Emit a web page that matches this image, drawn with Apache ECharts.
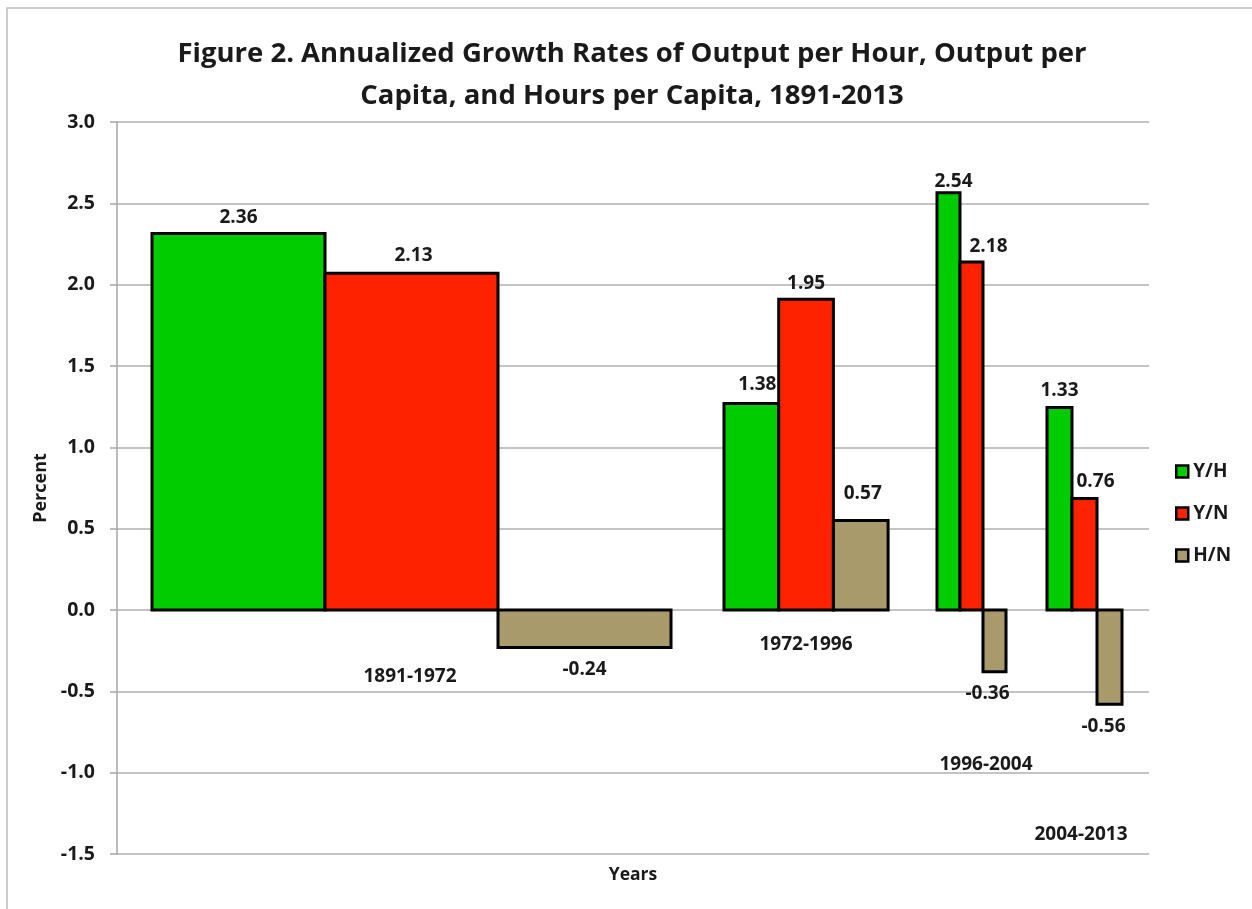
<!DOCTYPE html>
<html>
<head>
<meta charset="utf-8">
<script src="https://cdn.jsdelivr.net/npm/echarts@6/dist/echarts.min.js"></script>
<style>
html,body{margin:0;padding:0;background:#fff;}
#chart{width:1252px;height:909px;}
</style>
</head>
<body>
<div id="chart"></div>
<script>
// ---- data ----
const categories = ['1891-1972', '1972-1996', '1996-2004', '2004-2013'];
const seriesNames = ['Y/H', 'Y/N', 'H/N'];
// bar heights as drawn in the picture
const yhValues = [2.315, 1.27, 2.565, 1.245];
const ynValues = [2.07, 1.91, 2.14, 0.685];
const hnValues = [-0.23, 0.55, -0.38, -0.58];
// printed value labels
const yhLabels = ['2.36', '1.38', '2.54', '1.33'];
const ynLabels = ['2.13', '1.95', '2.18', '0.76'];
const hnLabels = ['-0.24', '0.57', '-0.36', '-0.56'];
const yMin = -1.5, yMax = 3.0, yInterval = 0.5;

// ---- layout (x in arbitrary plot units) ----
const layout = {
  xMax: 1032,
  groupStart: [35, 607, 820, 930],
  barWidth: [173, 54.7, 23, 25],
  labelDx: [[0, 6, 5, 0], [2, 0, 17, 11], [0, 2, -7, -6]],
  labelDy: [[-16, -19, -11, -17], [-18, -16, -15, -17], [22, -27, 22, 22]],
  catX: [293, 689, 869, 964],
  catY: [-0.41, -0.215, -0.95, -1.38]
};
const colors = ['#00cc00', '#ff2200', '#a89a6a'];
const FONT = "'Open Sans', 'Liberation Sans', sans-serif";

const valueSets = [yhValues, ynValues, hnValues];
const labelSets = [yhLabels, ynLabels, hnLabels];

function makeBarSeries(si) {
  return {
    name: seriesNames[si],
    type: 'custom',
    itemStyle: { color: colors[si], borderColor: '#000', borderWidth: 2.5 },
    data: valueSets[si].map((v, g) => [g, v]),
    renderItem: function (params, api) {
      const g = api.value(0);
      const v = api.value(1);
      const x0 = layout.groupStart[g] + si * layout.barWidth[g];
      const x1 = x0 + layout.barWidth[g];
      const p0 = api.coord([x0, 0]);
      const p1 = api.coord([x1, v]);
      const top = Math.min(p0[1], p1[1]);
      const h = Math.abs(p1[1] - p0[1]);
      return {
        type: 'group',
        children: [
          {
            type: 'rect',
            shape: { x: p0[0], y: top, width: p1[0] - p0[0], height: h },
            style: { fill: colors[si], stroke: '#000', lineWidth: 3 }
          },
          {
            type: 'text',
            style: {
              text: labelSets[si][g],
              x: (p0[0] + p1[0]) / 2 + layout.labelDx[si][g],
              y: p1[1] + layout.labelDy[si][g],
              align: 'center',
              verticalAlign: 'middle',
              font: "bold 19px " + FONT,
              fill: '#1a1a1a'
            }
          }
        ]
      };
    }
  };
}

const catSeries = {
  name: 'categories',
  type: 'custom',
  silent: true,
  data: categories.map((c, g) => [g]),
  renderItem: function (params, api) {
    const g = api.value(0);
    const p = api.coord([layout.catX[g], layout.catY[g]]);
    return {
      type: 'text',
      style: {
        text: categories[g], x: p[0], y: p[1],
        align: 'center', verticalAlign: 'middle',
        font: "bold 19px " + FONT, fill: '#1a1a1a'
      }
    };
  }
};

const chart = echarts.init(document.getElementById('chart'), null, { renderer: 'canvas' });
chart.setOption({
  backgroundColor: '#fff',
  animation: false,
  title: {
    text: 'Figure 2. Annualized Growth Rates of Output per Hour, Output per\nCapita, and Hours per Capita, 1891-2013',
    left: 627, top: 28, textAlign: 'center',
    textStyle: { fontFamily: FONT, fontWeight: 'bold', fontSize: 27.5, lineHeight: 42, color: '#1a1a1a' }
  },
  graphic: [{
    type: 'rect', shape: { x: 7, y: 8, width: 1270, height: 930 },
    style: { fill: 'none', stroke: '#bdbdbd', lineWidth: 1.5 }, silent: true
  }],
  legend: {
    data: seriesNames,
    orient: 'vertical', left: 1175, top: 462, padding: 0,
    itemWidth: 12, itemHeight: 12, itemGap: 23,
    icon: 'rect',
    itemStyle: { borderColor: '#000', borderWidth: 2.5 },
    textStyle: { fontFamily: FONT, fontWeight: 'bold', fontSize: 19, color: '#1a1a1a' }
  },
  grid: { left: 117, right: 103, top: 122, bottom: 55, containLabel: false },
  xAxis: {
    type: 'value', min: 0, max: layout.xMax,
    name: 'Years', nameLocation: 'middle', nameGap: 12,
    nameTextStyle: { fontFamily: FONT, fontWeight: 'bold', fontSize: 17.5, color: '#1a1a1a' },
    axisLine: { show: false }, axisTick: { show: false },
    axisLabel: { show: false }, splitLine: { show: false }
  },
  yAxis: {
    type: 'value', min: yMin, max: yMax, interval: yInterval,
    name: 'Percent', nameLocation: 'middle', nameGap: 63, nameRotate: 90,
    nameTextStyle: { fontFamily: FONT, fontWeight: 'bold', fontSize: 18, color: '#1a1a1a' },
    axisLine: { show: true, lineStyle: { color: '#a6a6a6', width: 1.5 } },
    axisTick: { show: true, length: 7, lineStyle: { color: '#a6a6a6', width: 1.5 } },
    axisLabel: {
      margin: 22, fontFamily: FONT, fontWeight: 'bold', fontSize: 19.5, color: '#1a1a1a',
      formatter: v => v.toFixed(1)
    },
    splitLine: { show: true, lineStyle: { color: '#b0b0b0', width: 1.5 } }
  },
  series: [makeBarSeries(0), makeBarSeries(1), makeBarSeries(2), catSeries]
});
</script>
</body>
</html>
